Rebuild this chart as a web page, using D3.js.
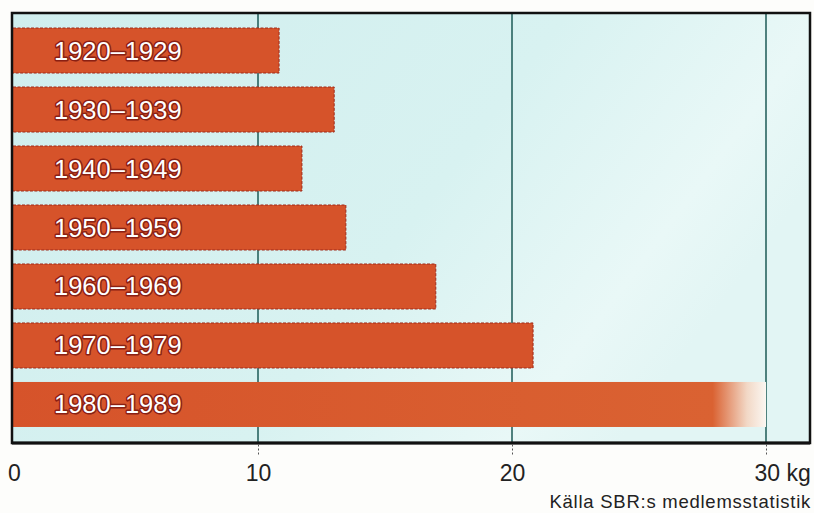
<!DOCTYPE html>
<html><head><meta charset="utf-8">
<script src="https://cdn.jsdelivr.net/npm/d3@7"></script>
<style>
html,body{margin:0;padding:0;background:#fdfdfb;}
svg{display:block;}
</style></head>
<body>
<script>
const categories = ["1920–1929","1930–1939","1940–1949","1950–1959","1960–1969","1970–1979","1980–1989"];
const values = [10.83, 13.0, 11.73, 13.46, 17.0, 20.83, 30.0];
const tickValues = [0, 10, 20, 30];
const tickLabels = ["0", "10", "20", "30 kg"];
const sourceText = "Källa SBR:s medlemsstatistik";

const W = 814, H = 513;
const frame = {x0: 12, x1: 810, y0: 13, y1: 443};

const svg = d3.select("body").append("svg").attr("width", W).attr("height", H);

const x = d3.scaleLinear().domain([0, 30]).range([4, 766]);
const y = d3.scaleBand().domain(categories).range([21, 434]).paddingInner(0.237).paddingOuter(0.119);

const defs = svg.append("defs");
defs.append("clipPath").attr("id", "plotclip").append("rect")
  .attr("x", frame.x0).attr("y", frame.y0).attr("width", frame.x1 - frame.x0).attr("height", frame.y1 - frame.y0);

const bg = defs.append("linearGradient").attr("id", "bggrad").attr("x1", 0).attr("x2", 1).attr("y1", 0).attr("y2", 0.4);
bg.append("stop").attr("offset", "0%").attr("stop-color", "#d0eeee");
bg.append("stop").attr("offset", "60%").attr("stop-color", "#d8f2f1");
bg.append("stop").attr("offset", "88%").attr("stop-color", "#e9f8f7");
bg.append("stop").attr("offset", "100%").attr("stop-color", "#e2f5f4");

const fade = defs.append("linearGradient").attr("id", "fadegrad").attr("x1", 0).attr("x2", 1).attr("y1", 0).attr("y2", 0);
fade.append("stop").attr("offset", "0%").attr("stop-color", "#d6532a");
fade.append("stop").attr("offset", "93%").attr("stop-color", "#da6232");
fade.append("stop").attr("offset", "97.5%").attr("stop-color", "#f2d8c6");
fade.append("stop").attr("offset", "100%").attr("stop-color", "#fbf7f2");

// plot background
svg.append("rect").attr("x", frame.x0).attr("y", frame.y0)
  .attr("width", frame.x1 - frame.x0).attr("height", frame.y1 - frame.y0)
  .attr("fill", "url(#bggrad)");

const plot = svg.append("g").attr("clip-path", "url(#plotclip)");

// gridlines
plot.selectAll("line.grid").data(tickValues.filter(d => d > 0)).join("line")
  .attr("class", "grid")
  .attr("x1", d => x(d)).attr("x2", d => x(d))
  .attr("y1", frame.y0).attr("y2", frame.y1)
  .attr("stroke", "#1d5a56").attr("stroke-width", 1.5);

// bars
plot.selectAll("rect.bar").data(categories).join("rect")
  .attr("class", "bar")
  .attr("x", x(0))
  .attr("y", d => y(d))
  .attr("width", (d, i) => x(values[i]) - x(0))
  .attr("height", y.bandwidth())
  .attr("fill", (d, i) => i === categories.length - 1 ? "url(#fadegrad)" : "#d6532a")
  .attr("stroke", (d, i) => i === categories.length - 1 ? "none" : "#9e2a1a")
  .attr("stroke-width", 1)
  .attr("stroke-dasharray", "3,1.5");

// bar labels
plot.selectAll("text.lbl").data(categories).join("text")
  .attr("class", "lbl")
  .attr("x", 54)
  .attr("y", d => y(d) + y.bandwidth() / 2 + 9)
  .attr("font-family", "Liberation Sans, Arial, sans-serif")
  .attr("font-size", 25.5)
  .attr("fill", "#ffffff")
  .attr("stroke", "#8a2013")
  .attr("stroke-width", 3)
  .attr("paint-order", "stroke")
  .attr("stroke-linejoin", "round")
  .text(d => d);

// frame
svg.append("rect").attr("x", frame.x0).attr("y", frame.y0)
  .attr("width", frame.x1 - frame.x0).attr("height", frame.y1 - frame.y0)
  .attr("fill", "none").attr("stroke", "#111").attr("stroke-width", 2.5);
svg.append("line").attr("x1", frame.x0).attr("x2", frame.x1)
  .attr("y1", frame.y1).attr("y2", frame.y1).attr("stroke", "#111").attr("stroke-width", 3);

// axis ticks & labels
const axisG = svg.append("g").attr("transform", `translate(0,${frame.y1 + 1.5})`);
const axis = d3.axisBottom(x).tickValues(tickValues).tickSize(12).tickPadding(8)
  .tickFormat((d, i) => tickLabels[i]);
axisG.call(axis);
axisG.select(".domain").remove();
axisG.selectAll(".tick line").attr("stroke", "#555").attr("stroke-dasharray", "2,2")
  .attr("stroke-width", 1)
  .attr("display", d => d === 0 ? "none" : null);
axisG.selectAll(".tick text")
  .attr("font-family", "Liberation Sans, Arial, sans-serif")
  .attr("font-size", 23)
  .attr("fill", "#222")
  .attr("text-anchor", d => d === 30 ? "start" : "middle")
  .attr("dx", d => d === 30 ? -12 : (d === 0 ? 10 : 0));

// source
svg.append("text").attr("x", 811).attr("y", 508)
  .attr("text-anchor", "end")
  .attr("font-family", "Liberation Sans, Arial, sans-serif")
  .attr("font-size", 18.5)
  .attr("letter-spacing", 0.75)
  .attr("fill", "#222")
  .text(sourceText);
</script>
</body></html>
